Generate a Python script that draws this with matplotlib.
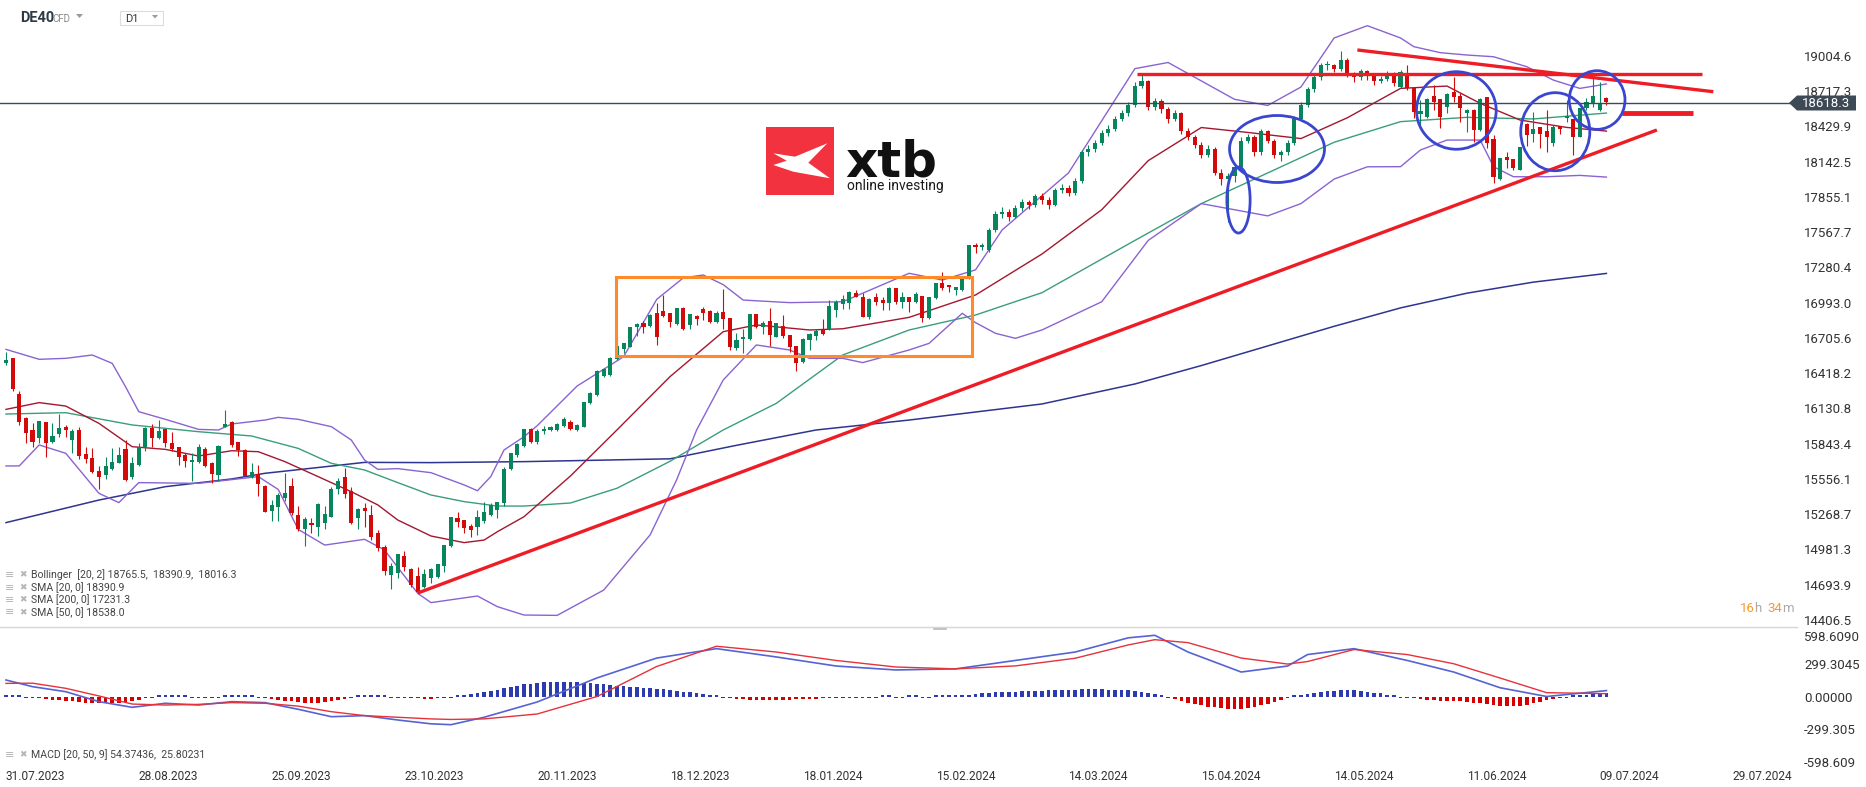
import matplotlib.pyplot as plt
import numpy as np
from matplotlib.patches import Ellipse, Rectangle, Polygon

plt.rcParams['font.family'] = ['Roboto', 'DejaVu Sans']

# ---------------- data ----------------
# daily candles, bar 0 = 31.07.2023
opens = [
    16504, 16539, 16248, 16050, 15955, 15887, 16020, 15860, 15922, 15977,
    15873, 15955, 15759, 15727, 15621, 15588, 15634, 15689, 15800, 15575,
    15670, 15805, 15969, 15887, 15960, 15846, 15814, 15748, 15691, 15697,
    15797, 15683, 15588, 15982, 16023, 15857, 15792, 15575, 15596, 15498,
    15297, 15330, 15403, 15498, 15262, 15145, 15200, 15167, 15200, 15248,
    15471, 15575, 15460, 15235, 15316, 15262, 15113, 15004, 14773, 14792,
    14928, 14819, 14765, 14678, 14746, 14754, 14846, 15009, 15235, 15221,
    15172, 15162, 15216, 15262, 15303, 15357, 15634, 15751, 15825, 15960,
    15860, 15945, 15955, 15955, 15987, 16023, 15955, 15982, 16172, 16240,
    16395, 16403, 16531, 16612, 16634, 16792, 16830, 16803, 16911, 16925,
    16911, 16819, 16947, 16811, 16884, 16938, 16927, 16838, 16917, 16865,
    16620, 16694, 16694, 16900, 16792, 16843, 16715, 16803, 16729, 16640,
    16512, 16688, 16721, 16770, 16770, 16933, 16982, 16993, 17074, 17036,
    16873, 17036, 17014, 16993, 17110, 17001, 17042, 17001, 17047, 16865,
    17028, 17156, 17137, 17096, 17096, 17191, 17463, 17444, 17422, 17585,
    17713, 17733, 17694, 17762, 17810, 17790, 17858, 17829, 17790, 17907,
    17926, 17888, 17985, 18217, 18246, 18295, 18373, 18411, 18489, 18537,
    18605, 18761, 18799, 18586, 18634, 18567, 18489, 18537, 18392, 18344,
    18276, 18198, 18247, 18053, 18004, 18024, 18101, 18314, 18344, 18217,
    18392, 18314, 18198, 18217, 18295, 18489, 18605, 18731, 18828, 18926,
    18926, 18896, 18974, 18857, 18828, 18877, 18838, 18799, 18819, 18857,
    18753, 18848, 18739, 18530, 18508, 18677, 18650, 18590, 18712, 18677,
    18541, 18563, 18400, 18666, 18324, 17999, 18177, 18161, 18074, 18449,
    18367, 18421, 18394, 18291, 18432, 18495, 18487, 18345, 18576, 18617,
    18563, 18658]
highs = [
    16593, 16545, 16273, 16058, 16009, 16031, 16022, 16009, 16085, 15996,
    15960, 15977, 15819, 15805, 15661, 15738, 15805, 15819, 15873, 15738,
    15846, 15977, 16004, 16036, 15960, 15941, 15819, 15770, 15765, 15841,
    15814, 15697, 15833, 16118, 16031, 15857, 15803, 15689, 15670, 15504,
    15384, 15444, 15602, 15561, 15335, 15243, 15235, 15363, 15335, 15488,
    15561, 15642, 15493, 15316, 15363, 15344, 15140, 15017, 14868, 14944,
    14971, 14827, 14836, 14819, 14827, 14863, 15017, 15243, 15289, 15221,
    15189, 15303, 15371, 15363, 15371, 15651, 15770, 15852, 15960, 15975,
    15960, 15990, 15987, 16010, 16058, 16036, 16000, 16186, 16267, 16444,
    16457, 16552, 16729, 16667, 16797, 16824, 16846, 16900, 16993, 17055,
    16911, 16947, 16955, 16900, 16889, 16955, 16933, 16927, 17101, 16865,
    16748, 16775, 16900, 16900, 16846, 16947, 16830, 16892, 16729, 16640,
    16702, 16743, 16775, 16857, 17014, 17014, 17055, 17090, 17096, 17069,
    17028, 17074, 17042, 17123, 17110, 17082, 17042, 17082, 17047, 17042,
    17156, 17245, 17137, 17123, 17191, 17463, 17476, 17476, 17600, 17740,
    17770, 17760, 17790, 17840, 17830, 17880, 17890, 17850, 17930, 17960,
    17950, 18010, 18240, 18280, 18320, 18400, 18440, 18510, 18560, 18630,
    18790, 18856, 18810, 18660, 18650, 18590, 18560, 18550, 18420, 18360,
    18300, 18280, 18260, 18080, 18050, 18120, 18340, 18370, 18360, 18410,
    18400, 18330, 18240, 18320, 18510, 18630, 18750, 18850, 18950, 18960,
    18940, 19045, 18990, 18870, 18900, 18890, 18860, 18840, 18880, 18870,
    18890, 18930, 18745, 18644, 18660, 18767, 18655, 18699, 18835, 18699,
    18570, 18570, 18658, 18670, 18359, 18169, 18223, 18165, 18262, 18455,
    18549, 18425, 18563, 18441, 18435, 18644, 18490, 18580, 18658, 18821,
    18794, 18666]
lows = [
    16485, 16275, 15996, 15846, 15814, 15846, 15732, 15852, 15901, 15895,
    15770, 15716, 15689, 15602, 15471, 15556, 15629, 15683, 15542, 15556,
    15664, 15786, 15819, 15879, 15814, 15786, 15670, 15651, 15542, 15683,
    15656, 15526, 15542, 15977, 15814, 15746, 15580, 15561, 15417, 15289,
    15216, 15216, 15379, 15262, 15134, 15009, 15113, 15094, 15145, 15243,
    15433, 15398, 15189, 15145, 15167, 15058, 14971, 14773, 14656, 14746,
    14808, 14678, 14624, 14664, 14711, 14746, 14800, 15000, 15167, 15113,
    15085, 15099, 15200, 15254, 15235, 15335, 15629, 15738, 15819, 15850,
    15840, 15920, 15950, 15950, 15982, 15955, 15950, 15977, 16167, 16235,
    16384, 16395, 16525, 16585, 16629, 16721, 16748, 16797, 16648, 16873,
    16792, 16811, 16770, 16775, 16811, 16851, 16830, 16830, 16775, 16607,
    16607, 16580, 16688, 16784, 16737, 16640, 16710, 16702, 16593, 16438,
    16498, 16607, 16688, 16729, 16770, 16873, 16938, 16938, 17036, 16873,
    16857, 16974, 16933, 16933, 16982, 16947, 16919, 16993, 16838, 16857,
    17020, 17096, 17082, 17055, 17090, 17183, 17395, 17422, 17408, 17570,
    17680, 17660, 17680, 17740, 17760, 17770, 17800, 17760, 17780, 17890,
    17860, 17870, 17970, 18190, 18220, 18280, 18350, 18390, 18470, 18510,
    18590, 18740, 18560, 18560, 18540, 18460, 18470, 18370, 18320, 18250,
    18170, 18180, 18030, 17950, 17650, 17980, 18090, 18290, 18190, 18200,
    18290, 18170, 18150, 18200, 18280, 18470, 18590, 18710, 18810, 18890,
    18870, 18880, 18830, 18790, 18810, 18810, 18770, 18780, 18800, 18760,
    18740, 18726, 18495, 18441, 18500, 18563, 18413, 18536, 18631, 18468,
    18386, 18305, 18395, 18250, 17965, 17995, 18087, 18074, 18070, 18269,
    18305, 18250, 18223, 18269, 18367, 18468, 18196, 18340, 18563, 18590,
    18557, 18603]
closes = [
    16525, 16286, 16023, 15928, 15860, 16028, 15852, 15906, 15969, 15955,
    15949, 15743, 15721, 15610, 15575, 15661, 15694, 15751, 15547, 15683,
    15819, 15969, 15887, 15949, 15846, 15797, 15732, 15705, 15710, 15819,
    15661, 15596, 15825, 16001, 15833, 15792, 15583, 15613, 15515, 15289,
    15344, 15425, 15439, 15281, 15145, 15227, 15181, 15352, 15270, 15471,
    15542, 15433, 15200, 15308, 15297, 15080, 14990, 14808, 14846, 14944,
    14841, 14692, 14637, 14781, 14819, 14863, 15017, 15243, 15208, 15153,
    15140, 15243, 15289, 15344, 15371, 15634, 15770, 15841, 15960, 15860,
    15945, 15960, 15982, 16004, 16042, 15960, 15996, 16186, 16259, 16438,
    16449, 16539, 16640, 16661, 16792, 16819, 16792, 16892, 16715, 16884,
    16838, 16947, 16775, 16900, 16862, 16911, 16838, 16906, 16857, 16634,
    16688, 16715, 16900, 16792, 16830, 16729, 16824, 16721, 16629, 16504,
    16694, 16737, 16764, 16737, 16966, 17001, 17020, 17082, 17042, 16873,
    17020, 17001, 16987, 17110, 17001, 17036, 17001, 17063, 16865, 17036,
    17156, 17110, 17118, 17118, 17183, 17463, 17444, 17463, 17585, 17713,
    17733, 17694, 17762, 17810, 17790, 17858, 17829, 17790, 17907, 17926,
    17888, 17985, 18217, 18246, 18295, 18373, 18411, 18489, 18537, 18605,
    18761, 18799, 18586, 18634, 18567, 18489, 18537, 18392, 18344, 18276,
    18198, 18247, 18053, 18004, 18024, 18101, 18314, 18344, 18217, 18392,
    18314, 18198, 18217, 18295, 18489, 18605, 18731, 18828, 18926, 18926,
    18896, 18974, 18857, 18828, 18877, 18838, 18799, 18819, 18857, 18780,
    18875, 18739, 18549, 18557, 18650, 18631, 18508, 18693, 18672, 18576,
    18563, 18400, 18650, 18297, 18014, 18169, 18155, 18087, 18259, 18359,
    18405, 18367, 18340, 18421, 18405, 18514, 18345, 18576, 18631, 18677,
    18623, 18631]
last_price = 18618.3

# indicator lines, sampled at bar positions
sma200_x = [0, 14, 24, 34, 39, 49, 54, 64, 78, 100, 110, 122, 136, 156, 170, 180, 190, 200, 210, 220, 230, 241]
sma200 = [15200, 15384, 15493, 15556, 15602, 15661, 15691, 15689, 15697, 15720, 15830, 15955, 16036, 16167,
          16330, 16480, 16640, 16800, 16950, 17070, 17160, 17231]
sma50_x = [0, 9, 19, 29, 37, 44, 49, 54, 59, 64, 69, 74, 78, 85, 92, 100, 108, 116, 126, 136, 146, 156,
           170, 180, 190, 200, 210, 220, 230, 241]
sma50 = [16085, 16096, 15996, 15941, 15906, 15805, 15683, 15629, 15526, 15425, 15371, 15335, 15335, 15360,
         15480, 15700, 15955, 16172, 16566, 16770, 16892, 17074, 17500, 17800, 18050, 18300, 18468, 18503,
         18490, 18538]
sma20_x = [0, 5, 9, 14, 19, 24, 29, 34, 38, 42, 47, 52, 56, 59, 64, 69, 72, 74, 78, 85, 92, 100, 108, 113,
           121, 126, 136, 146, 156, 165, 172, 180, 187, 195, 202, 210, 217, 222, 228, 235, 241]
sma20 = [16123, 16178, 16150, 16009, 15819, 15797, 15743, 15786, 15778, 15697, 15575, 15452, 15344, 15221,
         15091, 15037, 15058, 15126, 15248, 15580, 15955, 16390, 16756, 16811, 16770, 16780, 16873, 17055,
         17389, 17750, 18150, 18420, 18380, 18330, 18500, 18739, 18758, 18617, 18481, 18421, 18391]
bbu_x = [0, 5, 9, 13, 16, 18, 20, 24, 29, 32, 34, 39, 41, 44, 49, 52, 54, 56, 59, 64, 69, 71, 73, 75, 78,
         80, 86, 93, 98, 102, 105, 108, 111, 118, 126, 136, 141, 146, 150, 160, 170, 175, 180, 185, 190,
         195, 200, 205, 210, 212, 216, 220, 224, 229, 233, 237, 241]
bbu = [16612, 16531, 16539, 16566, 16498, 16308, 16104, 16042, 15960, 15955, 16004, 16036, 16058, 16042,
       15982, 15873, 15710, 15634, 15640, 15607, 15507, 15460, 15575, 15792, 15900, 15990, 16313, 16552,
       17020, 17195, 17218, 17140, 17014, 16993, 17000, 17232, 17177, 17260, 17585, 18050, 18900, 18950,
       18800, 18650, 18600, 18750, 19150, 19250, 19150, 19079, 19030, 19011, 18997, 18916, 18807, 18739,
       18775]
bbl_x = [0, 2, 5, 9, 14, 17, 20, 29, 38, 41, 44, 48, 54, 57, 62, 64, 71, 74, 78, 83, 90, 97, 101, 104,
         108, 113, 118, 121, 126, 129, 136, 139, 144, 146, 149, 152, 156, 165, 172, 180, 185, 190, 195,
         200, 205, 210, 213, 217, 222, 224, 227, 232, 237, 241]
bbl = [15662, 15662, 15833, 15765, 15439, 15363, 15526, 15520, 15575, 15470, 15145, 15017, 15064, 14977,
       14624, 14548, 14602, 14515, 14447, 14444, 14650, 15100, 15550, 15955, 16362, 16648, 16607, 16539,
       16539, 16504, 16607, 16661, 16906, 16830, 16743, 16702, 16770, 17000, 17500, 17800, 17750, 17700,
       17800, 18000, 18100, 18101, 18237, 18318, 18318, 18101, 18019, 18019, 18030, 18016]

# MACD (20, 50, 9)
macd_x = [0, 4, 9, 14, 19, 24, 29, 34, 39, 44, 49, 54, 59, 64, 67, 72, 80, 89, 98, 107, 116, 125, 134,
          143, 152, 161, 169, 173, 178, 186, 193, 196, 203, 211, 218, 225, 232, 241]
macd = [151, 90, 44, -47, -99, -62, -78, -47, -56, -117, -185, -175, -215, -250, -258, -190, -50, 170,
        352, 438, 362, 279, 243, 253, 330, 407, 537, 560, 407, 224, 279, 384, 438, 330, 224, 80, 0, 54]
signal = [120, 122, 75, 5, -69, -78, -72, -56, -62, -88, -139, -175, -190, -205, -210, -205, -160, 0,
          275, 460, 407, 330, 270, 253, 280, 350, 472, 520, 493, 352, 297, 320, 430, 384, 300, 169, 35, 26]
hist = [
    15, 12, 8, -3, -5, -12, -20, -28, -35, -40,
    -45, -50, -55, -58, -60, -60, -58, -55, -50, -42,
    -30, -18, -8, 4, 8, 10, 8, 4, -3, -6,
    -8, -4, -2, 6, 10, 10, 8, 4, -3, -10,
    -20, -30, -38, -45, -52, -58, -60, -58, -52, -45,
    -35, -20, -8, 4, 8, 6, 4, 3, -3, -6,
    -10, -14, -18, -20, -20, -18, -12, -5, 5, 12,
    20, 30, 40, 50, 62, 75, 88, 100, 110, 118,
    125, 130, 133, 135, 135, 133, 130, 127, 122, 118,
    112, 106, 100, 95, 90, 85, 80, 75, 70, 65,
    60, 52, 45, 38, 30, 22, 14, 6, -10, -15,
    -20, -25, -28, -30, -30, -30, -30, -28, -28, -26,
    -24, -22, -20, -18, -15, -12, -10, -8, -5, -3,
    -2, -1, 1, 2, -2, -2, 1, 2, -2, -1,
    2, 3, 5, 8, 12, 18, 24, 30, 35, 38,
    40, 42, 45, 48, 50, 52, 54, 56, 58, 60,
    62, 64, 65, 66, 66, 65, 64, 62, 60, 56,
    50, 42, 32, 20, 8, -8, -22, -38, -55, -70,
    -82, -92, -100, -108, -112, -115, -112, -105, -95, -82,
    -68, -52, -35, -18, 2, 12, 22, 32, 40, 48,
    53, 56, 57, 55, 50, 44, 36, 28, 18, 8,
    -5, -12, -18, -25, -30, -35, -38, -40, -42, -44,
    -46, -55, -62, -70, -78, -85, -88, -88, -84, -75,
    -62, -48, -35, -22, -10, -2, 5, 12, 18, 22,
    26, 28]

price_ticks = [19004.6, 18717.3, 18429.9, 18142.5, 17855.1, 17567.7, 17280.4, 16993.0, 16705.6,
               16418.2, 16130.8, 15843.4, 15556.1, 15268.7, 14981.3, 14693.9, 14406.5]
macd_ticks = [598.609, 299.3045, 0.0, -299.305, -598.609]
macd_labels = ['598.6090', '299.3045', '0.00000', '-299.305', '-598.609']
date_pos = list(range(0, 261, 20))
date_labels = ['31.07.2023', '28.08.2023', '25.09.2023', '23.10.2023', '20.11.2023', '18.12.2023',
               '18.01.2024', '15.02.2024', '14.03.2024', '15.04.2024', '14.05.2024', '11.06.2024',
               '09.07.2024', '29.07.2024']

# drawn analysis (bar index, price)
support = ([62.0, 248.6], [14626, 18400])
resist_h = ([170.3, 255.4], [18858, 18858])
resist_d = ([203.5, 257.1], [19052, 18712])
short_h = ([243.4, 254.1], [18536, 18536])
box = (91.9, 16560, 145.5, 17199)
circles = [(191.4, 18245, 14.3, 546), (185.6, 17829, 3.5, 538), (218.4, 18559, 12.0, 632),
           (233.3, 18386, 10.4, 636), (239.6, 18644, 8.4, 478)]

# ---------------- figure ----------------
W, H = 1866, 787
fig = plt.figure(figsize=(W / 100, H / 100), dpi=100)
fig.patch.set_facecolor('white')


def fx(px):
    return px / W


def fy(py):
    return 1 - py / H


GREEN = '#07855c'
RED = '#d20a0a'
TXT = '#333333'

ax = fig.add_axes([0, fy(627), fx(1797), 627 / H])
ax2 = fig.add_axes([0, fy(767), fx(1797), 140 / H])
for a in (ax, ax2):
    a.set_xlim(-0.9, 269.7)
    for s in a.spines.values():
        s.set_visible(False)
ax.set_ylim(14349.3, 19459.4)
ax2.set_ylim(-645.2, 636.1)

# candles
idx = np.arange(len(closes))
o = np.array(opens)
c = np.array(closes)
up = c >= o
cols = np.where(up, GREEN, RED)
ax.vlines(idx, lows, highs, colors=cols, lw=0.8, zorder=3)
ax.bar(idx, np.maximum(np.abs(c - o), 12), bottom=np.minimum(o, c), width=0.62,
       color=cols, linewidth=0, zorder=4)

# indicators
ax.plot(sma200_x, sma200, color='#2e3590', lw=1.1, zorder=2)
ax.plot(sma50_x, sma50, color='#3a9e78', lw=1.0, zorder=2)
ax.plot(sma20_x, sma20, color='#a3172f', lw=1.0, zorder=2)
ax.plot(bbu_x, bbu, color='#8a63d2', lw=1.0, zorder=2)
ax.plot(bbl_x, bbl, color='#8a63d2', lw=1.0, zorder=2)

# current price line
ax.axhline(last_price, color='#3d4954', lw=1.0, zorder=5)

# drawn lines
for xs, ys in (support, resist_h, resist_d):
    ax.plot(xs, ys, color='#ee1c25', lw=2.4, solid_capstyle='butt', zorder=6)
ax.plot(*short_h, color='#ee1c25', lw=3.5, solid_capstyle='butt', zorder=6)
ax.add_patch(Rectangle((box[0], box[1]), box[2] - box[0], box[3] - box[1], fill=False,
                       edgecolor='#ff8a2a', lw=2.2, zorder=6))
for cx, cy, w, h in circles:
    ax.add_patch(Ellipse((cx, cy), w, h, fill=False, edgecolor='#3a45d0', lw=2.0, zorder=7))

ax.set_xticks([])
ax.yaxis.tick_right()
ax.set_yticks(price_ticks)
ax.set_yticklabels([f'{v:.1f}' for v in price_ticks])
ax.tick_params(axis='y', length=0, pad=5, labelsize=9.5, labelcolor=TXT)

# MACD panel
hv = np.array(hist, dtype=float)
hv = np.sign(hv) * np.maximum(np.abs(hv), 10)
ax2.bar(idx, hv, width=0.55, color=np.where(hv >= 0, '#2c3cae', '#d50000'), linewidth=0, zorder=2)
ax2.plot(macd_x, macd, color='#5563d4', lw=1.2, zorder=3)
ax2.plot(macd_x, signal, color='#e5323b', lw=1.0, zorder=3)
ax2.yaxis.tick_right()
ax2.set_yticks(macd_ticks)
ax2.set_yticklabels(macd_labels)
ax2.tick_params(axis='y', length=0, pad=5, labelsize=9.5, labelcolor=TXT)
ax2.get_yticklabels()[0].set_va('top')
ax2.set_xticks(date_pos)
ax2.set_xticklabels(date_labels, ha='left')
ax2.tick_params(axis='x', length=0, pad=2.5, labelsize=8.6, labelcolor=TXT)
ax2.spines['top'].set_visible(True)
ax2.spines['top'].set_color('#d6d6d6')
ax2.spines['top'].set_linewidth(1.0)

# small resize handle on the panel divider
fig.add_artist(plt.Line2D([fx(934), fx(946)], [fy(628.5), fy(628.5)], color='#b8b8b8', lw=1.2,
                          transform=fig.transFigure))

# price tag
fig.add_artist(Polygon([(fx(1789), fy(103)), (fx(1797), fy(95.5)), (fx(1856), fy(95.5)),
                        (fx(1856), fy(110.5)), (fx(1797), fy(110.5))],
                       closed=True, facecolor='#3d4954', edgecolor='none',
                       transform=fig.transFigure, zorder=10))
fig.text(fx(1802), fy(103.5), f'{last_price:.1f}', color='white', fontsize=9.5, va='center', zorder=11)

# header
fig.text(fx(20), fy(18), 'DE40', fontsize=10.5, fontweight='bold', color='#2d3a46', va='center')
fig.text(fx(52), fy(19), 'CFD', fontsize=7, color='#8a8a8a', va='center')
fig.add_artist(Polygon([(fx(76), fy(14)), (fx(83), fy(14)), (fx(79.5), fy(18))], closed=True,
                       facecolor='#9a9a9a', edgecolor='none', transform=fig.transFigure))
fig.add_artist(Rectangle((fx(120), fy(25)), fx(43), 14 / H, facecolor='white', edgecolor='#dcdcdc',
                         lw=0.8, transform=fig.transFigure))
fig.text(fx(125), fy(19), 'D1', fontsize=8, color=TXT, va='center')
fig.add_artist(Polygon([(fx(152), fy(15)), (fx(158), fy(15)), (fx(155), fy(18.5))], closed=True,
                       facecolor='#9a9a9a', edgecolor='none', transform=fig.transFigure))

# xtb logo
fig.add_artist(Rectangle((fx(766), fy(195)), fx(68), 68 / H, facecolor='#f2323f', edgecolor='none',
                         transform=fig.transFigure, zorder=8))
logo_x = [773.3, 795, 827.3, 808.3, 830, 793.3, 773.3, 786.7]
logo_y = [153.3, 156.7, 143.3, 162.7, 178.3, 171.7, 165, 160.7]
fig.add_artist(Polygon([(fx(a), fy(b)) for a, b in zip(logo_x, logo_y)], closed=True,
                       facecolor='white', edgecolor='none', transform=fig.transFigure, zorder=9))
fig.text(fx(845), fy(176.5), 'xtb', fontsize=36, fontweight='bold', color='#111111', va='baseline',
         family='DejaVu Sans', zorder=9)
fig.text(fx(847), fy(190), 'online investing', fontsize=10, color='#1a1a1a', va='baseline', zorder=9)

# indicator legend
legend_rows = [(575, 'Bollinger  [20, 2] 18765.5,  18390.9,  18016.3'),
               (587.5, 'SMA [20, 0] 18390.9'),
               (600, 'SMA [200, 0] 17231.3'),
               (612.5, 'SMA [50, 0] 18538.0'),
               (755, 'MACD [20, 50, 9] 54.37436,  25.80231')]
for yy, label in legend_rows:
    fig.text(fx(5), fy(yy), '\u2261', fontsize=8, color='#b5b5b5', va='center', family='DejaVu Sans')
    fig.text(fx(19), fy(yy), '\u2716', fontsize=6.5, color='#b5b5b5', va='center', family='DejaVu Sans')
    fig.text(fx(31), fy(yy), label, fontsize=7.6, color='#444444', va='center')

# countdown
ORANGE = '#f99a26'
fig.text(fx(1740), fy(608), '16', fontsize=9.5, color=ORANGE, va='center')
fig.text(fx(1754), fy(608), 'h', fontsize=9.5, color='#aaaaaa', va='center')
fig.text(fx(1767), fy(608), '34', fontsize=9.5, color=ORANGE, va='center')
fig.text(fx(1782), fy(608), 'm', fontsize=9.5, color='#aaaaaa', va='center')

fig.savefig('out.png', dpi=100)
